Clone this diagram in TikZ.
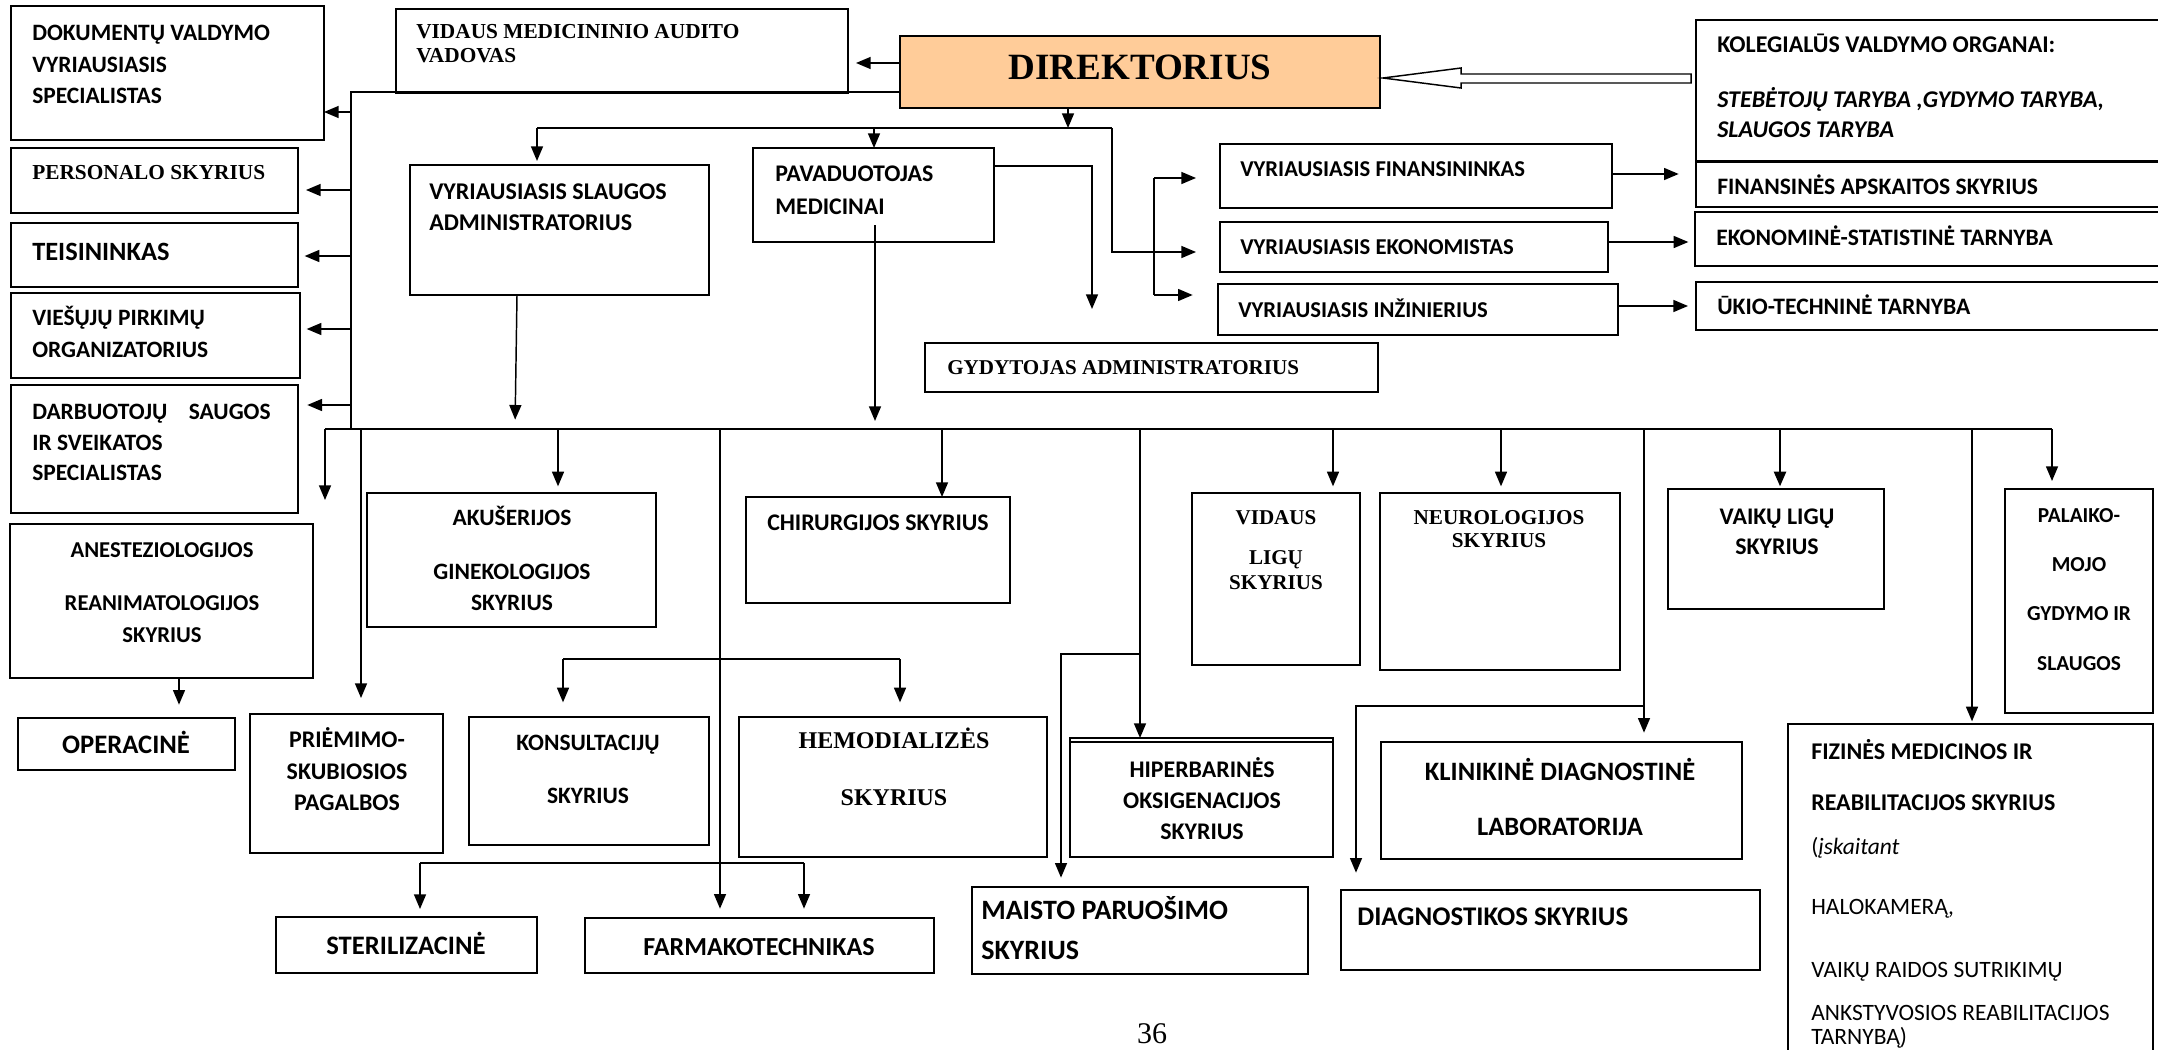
\documentclass[tikz,border=0pt]{standalone}
\usepackage{fontspec}
\setmainfont{Carlito}
\newfontfamily\tnr{Liberation Serif}
\usetikzlibrary{arrows.meta,fit,calc}
\definecolor{dirfill}{RGB}{255,204,153}

\begin{document}
\begin{tikzpicture}[x=0.75pt,y=0.75pt,yscale=-1,xscale=1,
  box/.style={draw, line width=1.5pt, inner sep=0pt, outer sep=0pt},
  ln/.style={line width=1.1pt},
  arr/.style={line width=1.1pt, -{Triangle[length=11pt,width=9pt]}},
  bus/.style={line width=2pt}]
\useasboundingbox (0,0) rectangle (2158,1049);

%Shape: Rectangle (upper part)
\node[box, fit={(11,6) (324,140)}] (dok) {};
\node[box, fit={(396,9) (848,93)}] (audit) {};
\node[box, fill=dirfill, fit={(900,36) (1380,108)}] (dir) {};
\node[box, fit={(1696,20) (2165,161)}] (koleg) {};
\node[box, fit={(11,148) (298,213)}] (pers) {};
\node[box, fit={(11,223) (298,287)}] (teis) {};
\node[box, fit={(11,293) (300,378)}] (vies) {};
\node[box, fit={(11,385) (298,513)}] (darb) {};
\node[box, fit={(410,165) (709,295)}] (vsa) {};
\node[box, fit={(753,148) (994,242)}] (pav) {};
\node[box, fit={(1220,144) (1612,208)}] (fin) {};
\node[box, fit={(1220,222) (1608,272)}] (ekon) {};
\node[box, fit={(1218,284) (1618,335)}] (inz) {};
\node[box, fit={(925,343) (1378,392)}] (gyd) {};
\node[box, fit={(1696,162) (2165,207)}] (finsk) {};
\node[box, fit={(1695,212) (2165,266)}] (ekst) {};
\node[box, fit={(1696,282) (2165,330)}] (ukio) {};

%Shape: Rectangle (departments)
\node[box, fit={(10,524) (313,678)}] (anest) {};
\node[box, fit={(367,493) (656,627)}] (akus) {};
\node[box, fit={(746,497) (1010,603)}] (chir) {};
\node[box, fit={(1192,493) (1360,665)}] (vidlig) {};
\node[box, fit={(1380,493) (1620,670)}] (neuro) {};
\node[box, fit={(1668,489) (1884,609)}] (vaik) {};
\node[box, fit={(2005,489) (2153,713)}] (palai) {};
\node[box, fit={(18,718) (235,770)}] (oper) {};
\node[box, fit={(250,714) (443,853)}] (priem) {};
\node[box, fit={(469,717) (709,845)}] (kons) {};
\node[box, fit={(739,717) (1047,857)}] (hemo) {};
\node[box, fit={(1070,738) (1333,857)}] (hiper) {};
\node[box, fit={(1381,742) (1742,859)}] (klin) {};
\node[box, fit={(1788,724) (2153,1070)}] (fiz) {};
\node[box, fit={(276,917) (537,973)}] (steril) {};
\node[box, fit={(585,918) (934,973)}] (farm) {};
\node[box, fit={(972,887) (1308,974)}] (maist) {};
\node[box, fit={(1341,890) (1760,970)}] (diag) {};
\draw[line width=1.2pt] (hiper.west |- 0,742) -- (hiper.east |- 0,742);

\coordinate (trunk) at (351,92);
\coordinate (busL) at (325,429);
\coordinate (busR) at (2052,429);
\coordinate (topL) at (537,128);
\coordinate (topR) at (1112,128);
\coordinate (ekonBend) at (1112,252);
\coordinate (finFork) at (1154,178);
\coordinate (inzFork) at (1154,295);
\coordinate (gydIn) at (1092,309);
\coordinate (pavOut) at (875,225);
\coordinate (anestIn) at (325,500);
\coordinate (konsFork) at (563,659);
\coordinate (hemoFork) at (900,659);
\coordinate (sterFork) at (420,863);
\coordinate (farmFork) at (804,863);
\coordinate (maistFork) at (1140,654);
\coordinate (diagFork) at (1644,706);

%Straight Lines
\draw[ln] (dir.west |- trunk) -- (trunk) -- (trunk |- busL);
\draw[arr] (trunk |- 0,112) -- (dok.east |- 0,112);
\draw[arr, shorten >=6] (trunk |- 0,190) -- (pers.east |- 0,190);
\draw[arr, shorten >=5] (trunk |- 0,256) -- (teis.east |- 0,256);
\draw[arr, shorten >=5] (trunk |- 0,329) -- (vies.east |- 0,329);
\draw[arr, shorten >=7] (trunk |- 0,405) -- (darb.east |- 0,405);
\draw[arr, shorten >=6] (dir.west |- 0,63) -- (audit.east |- 0,63);
\draw[line width=1.1pt, fill=white] ($(koleg.west |- 0,74)+(-5,0)$) -- (1461,74) -- (1461,68) -- ($(dir.east |- 0,78)+(3,0)$) -- (1461,88) -- (1461,83) -- ($(koleg.west |- 0,83)+(-5,0)$) -- cycle;
\draw[ln] (topL) -- (topR);
\draw[arr] (1068,0 |- dir.south) -- (1068,0 |- topL);
\draw[arr, shorten >=3] (topL) -- (topL |- vsa.north);
\draw[arr] (874,0 |- topL) -- (874,0 |- pav.north);
\draw[arr, shorten >=18] (topR) -- (ekonBend) -- (ekon.west |- ekonBend);
\draw[ln] (finFork) -- (inzFork);
\draw[arr, shorten >=18] (finFork) -- (fin.west |- finFork);
\draw[arr, shorten >=19] (inzFork) -- (inz.west |- inzFork);
\draw[arr] (pav.east |- 0,166) -| (gydIn);
\draw[arr, shorten >=13] (fin.east |- 0,174) -- (finsk.west |- 0,174);
\draw[arr, shorten >=5] (ekon.east |- 0,242) -- (ekst.west |- 0,242);
\draw[arr, shorten >=6] (inz.east |- 0,306) -- (ukio.west |- 0,306);
\draw[arr, shorten >=7] (vsa.south -| 517,0) -- (515,0 |- busL);
\draw[arr, shorten >=6] (pavOut) -- (pavOut |- busL);

%Straight Lines (departments)
\draw[bus] (busL) -- (busR);
\draw[arr] (busL) -- (anestIn);
\draw[arr, shorten >=12] (361,0 |- busL) -- (361,0 |- priem.north);
\draw[arr, shorten >=5] (558,0 |- busL) -- (558,0 |- akus.north);
\draw[arr, shorten >=7] (720,0 |- busL) -- (720,0 |- farm.north);
\draw[arr] (942,0 |- busL) -- (942,0 |- chir.north);
\draw[arr] (1140,0 |- busL) -- (1140,0 |- hiper.north);
\draw[arr, shorten >=7] (maistFork) -| (1061,0 |- maist.north);
\draw[arr, shorten >=5] (1333,0 |- busL) -- (1333,0 |- vidlig.north);
\draw[arr, shorten >=5] (1501,0 |- busL) -- (1501,0 |- neuro.north);
\draw[arr, shorten >=7] (1644,0 |- busL) -- (1644,0 |- klin.north);
\draw[arr, shorten >=13] (diagFork) -| (1356,0 |- diag.north);
\draw[arr, line width=1.8pt, shorten >=2] (1780,0 |- busL) -- (1780,0 |- vaik.north);
\draw[arr, shorten >=2] (1972,0 |- busL) -- (1972,0 |- fiz.north);
\draw[arr, shorten >=6] (busR) -- (busR |- palai.north);
\draw[arr, shorten >=10] (anest.south -| 179,0) -- (179,0 |- oper.north);
\draw[ln] (konsFork) -- (hemoFork);
\draw[arr, shorten >=11] (konsFork) -- (konsFork |- kons.north);
\draw[arr, shorten >=11] (hemoFork) -- (hemoFork |- hemo.north);
\draw[ln] (sterFork) -- (farmFork);
\draw[arr, shorten >=6] (sterFork) -- (sterFork |- steril.north);
\draw[arr, shorten >=7] (farmFork) -- (farmFork |- farm.north);

% Text Node
\draw (32,41) node [anchor=base west][inner sep=0pt][align=flush left,text width=400pt] [font=\fontsize{17.6}{23.3}\selectfont\bfseries] (dokT) {DOKUMENTŲ VALDYMO\\VYRIAUSIASIS\\SPECIALISTAS};
% Text Node
\draw (416,39) node [anchor=base west][inner sep=0pt][align=flush left,text width=400pt] [font=\tnr\fontsize{16}{17.3}\selectfont\bfseries] (auditT) {VIDAUS MEDICININIO AUDITO\\VADOVAS};
% Text Node
\draw (1140,79.5) node [anchor=base][inner sep=0pt] [font=\tnr\fontsize{27.8}{30}\selectfont\bfseries] (dirT) {DIREKTORIUS};
% Text Node
\draw (1717,53) node [anchor=base west][inner sep=0pt] [font=\fontsize{18}{22.5}\selectfont\bfseries] (kolegT) {KOLEGIALŪS VALDYMO ORGANAI:};
% Text Node
\draw (1717,108) node [anchor=base west][inner sep=0pt][align=flush left,text width=400pt] [font=\fontsize{18}{22.5}\selectfont\bfseries\itshape] (tarybT) {STEBĖTOJŲ TARYBA ,GYDYMO TARYBA,\\SLAUGOS TARYBA};
% Text Node
\draw (32,179) node [anchor=base west][inner sep=0pt] [font=\tnr\fontsize{16}{18}\selectfont\bfseries] (persT) {PERSONALO SKYRIUS};
% Text Node
\draw (32,260.5) node [anchor=base west][inner sep=0pt] [font=\fontsize{19.8}{22}\selectfont\bfseries] (teisT) {TEISININKAS};
% Text Node
\draw (32,325.6) node [anchor=base west][inner sep=0pt][align=flush left,text width=400pt] [font=\fontsize{17.6}{24}\selectfont\bfseries] (viesT) {VIEŠŲJŲ PIRKIMŲ\\ORGANIZATORIUS};
% Text Node
\draw (32,419.6) node [anchor=base west][inner sep=0pt][align=flush left,text width=400pt] [font=\fontsize{17.6}{22.9}\selectfont\bfseries] (darbT) {DARBUOTOJŲ\hspace{16pt}SAUGOS\\IR SVEIKATOS\\SPECIALISTAS};
% Text Node
\draw (429,199.6) node [anchor=base west][inner sep=0pt][align=flush left,text width=400pt] [font=\fontsize{18}{23.3}\selectfont\bfseries] (vsaT) {VYRIAUSIASIS SLAUGOS\\ADMINISTRATORIUS};
% Text Node
\draw (775,181.6) node [anchor=base west][inner sep=0pt][align=flush left,text width=400pt] [font=\fontsize{17.9}{24.8}\selectfont\bfseries] (pavT) {PAVADUOTOJAS\\MEDICINAI};
% Text Node
\draw (1240,176.4) node [anchor=base west][inner sep=0pt] [font=\fontsize{17}{20}\selectfont\bfseries] (finT) {VYRIAUSIASIS FINANSININKAS};
% Text Node
\draw (1240,254.4) node [anchor=base west][inner sep=0pt] [font=\fontsize{17}{20}\selectfont\bfseries] (ekonT) {VYRIAUSIASIS EKONOMISTAS};
% Text Node
\draw (1238,317.4) node [anchor=base west][inner sep=0pt] [font=\fontsize{17}{20}\selectfont\bfseries] (inzT) {VYRIAUSIASIS INŽINIERIUS};
% Text Node
\draw (947,374) node [anchor=base west][inner sep=0pt] [font=\tnr\fontsize{15.8}{18}\selectfont\bfseries] (gydT) {GYDYTOJAS ADMINISTRATORIUS};
% Text Node
\draw (1717,194.6) node [anchor=base west][inner sep=0pt] [font=\fontsize{17.7}{20}\selectfont\bfseries] (finskT) {FINANSINĖS APSKAITOS SKYRIUS};
% Text Node
\draw (1716,245.6) node [anchor=base west][inner sep=0pt] [font=\fontsize{17.7}{20}\selectfont\bfseries] (ekstT) {EKONOMINĖ-STATISTINĖ TARNYBA};
% Text Node
\draw (1717,314.6) node [anchor=base west][inner sep=0pt] [font=\fontsize{17.7}{20}\selectfont\bfseries] (ukioT) {ŪKIO-TECHNINĖ TARNYBA};

% Text Node
\draw (162,557.3) node [anchor=base][inner sep=0pt][align=flush center,text width=400pt] [font=\fontsize{17}{24}\selectfont\bfseries] (anestT) {ANESTEZIOLOGIJOS\\[15.75pt]REANIMATOLOGIJOS\\SKYRIUS};
% Text Node
\draw (512,525.6) node [anchor=base][inner sep=0pt][align=flush center,text width=400pt] [font=\fontsize{17.6}{23.25}\selectfont\bfseries] (akusT) {AKUŠERIJOS\\[17.25pt]GINEKOLOGIJOS\\SKYRIUS};
% Text Node
\draw (878,530.6) node [anchor=base][inner sep=0pt] [font=\fontsize{17.9}{20}\selectfont\bfseries] (chirT) {CHIRURGIJOS SKYRIUS};
% Text Node
\draw (1276,524) node [anchor=base][inner sep=0pt][align=flush center,text width=400pt] [font=\tnr\fontsize{15.8}{18.75}\selectfont\bfseries] (vidligT) {VIDAUS\\[11.25pt]LIGŲ\\SKYRIUS};
% Text Node
\draw (1499,524) node [anchor=base][inner sep=0pt][align=flush center,text width=400pt] [font=\tnr\fontsize{15.9}{17.25}\selectfont\bfseries] (neuroT) {NEUROLOGIJOS\\SKYRIUS};
% Text Node
\draw (1777,524.6) node [anchor=base][inner sep=0pt][align=flush center,text width=400pt] [font=\fontsize{17.9}{22.5}\selectfont\bfseries] (vaikT) {VAIKŲ LIGŲ\\SKYRIUS};
% Text Node
\draw (2079,522) node [anchor=base][inner sep=0pt][align=flush center,text width=400pt] [font=\fontsize{16}{37}\selectfont\bfseries] (palaiT) {PALAIKO-\\MOJO\\GYDYMO IR\\SLAUGOS};
% Text Node
\draw (126,753.6) node [anchor=base][inner sep=0pt] [font=\fontsize{20}{22}\selectfont\bfseries] (operT) {OPERACINĖ};
% Text Node
\draw (347,747.7) node [anchor=base][inner sep=0pt][align=flush center,text width=400pt] [font=\fontsize{17.9}{23.6}\selectfont\bfseries] (priemT) {PRIĖMIMO-\\SKUBIOSIOS\\PAGALBOS};
% Text Node
\draw (588,750.6) node [anchor=base][inner sep=0pt][align=flush center,text width=400pt] [font=\fontsize{17.6}{39.75}\selectfont\bfseries] (konsT) {KONSULTACIJŲ\\SKYRIUS};
% Text Node
\draw (894,748) node [anchor=base][inner sep=0pt][align=flush center,text width=400pt] [font=\tnr\fontsize{18}{42.75}\selectfont\bfseries] (hemoT) {HEMODIALIZĖS\\SKYRIUS};
% Text Node
\draw (1202,777.7) node [anchor=base][inner sep=0pt][align=flush center,text width=400pt] [font=\fontsize{17.9}{23.25}\selectfont\bfseries] (hiperT) {HIPERBARINĖS\\OKSIGENACIJOS\\SKYRIUS};
% Text Node
\draw (1560,780.5) node [anchor=base][inner sep=0pt][align=flush center,text width=400pt] [font=\fontsize{19.9}{41.25}\selectfont\bfseries] (klinT) {KLINIKINĖ DIAGNOSTINĖ\\LABORATORIJA};
% Text Node
\draw (1811,759.7) node [anchor=base west][inner sep=0pt][align=flush left,text width=400pt] [font=\fontsize{18}{38.25}\selectfont\bfseries] (fizT) {FIZINĖS MEDICINOS IR\\REABILITACIJOS SKYRIUS};
% Text Node
\draw (1811,854.6) node [anchor=base west][inner sep=0pt][align=flush left,text width=400pt] [font=\fontsize{17.6}{18}\selectfont] (fizList) {(\textit{įskaitant}\\[27pt]HALOKAMERĄ,\\[29.25pt]VAIKŲ RAIDOS SUTRIKIMŲ\\[14.25pt]ANKSTYVOSIOS REABILITACIJOS\\TARNYBĄ)};
% Text Node
\draw (406,954.6) node [anchor=base][inner sep=0pt] [font=\fontsize{20}{22}\selectfont\bfseries] (sterilT) {STERILIZACINĖ};
% Text Node
\draw (759,955.4) node [anchor=base][inner sep=0pt] [font=\fontsize{19.5}{22}\selectfont\bfseries] (farmT) {FARMAKOTECHNIKAS};
% Text Node
\draw (981,919) node [anchor=base west][inner sep=0pt][align=flush left,text width=400pt] [font=\fontsize{21}{30}\selectfont\bfseries] (maistT) {MAISTO PARUOŠIMO\\SKYRIUS};
% Text Node
\draw (1357,925.7) node [anchor=base west][inner sep=0pt] [font=\fontsize{20.2}{22}\selectfont\bfseries] (diagT) {DIAGNOSTIKOS SKYRIUS};
% Text Node
\draw (1152,1043) node [anchor=base][inner sep=0pt] [font=\tnr\fontsize{22.5}{24}\selectfont] (pageT) {36};
\end{tikzpicture}
\end{document}
